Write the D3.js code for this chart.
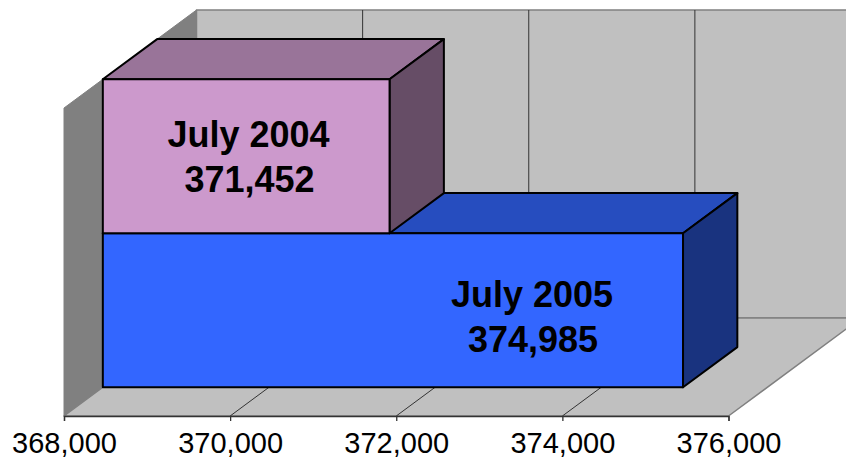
<!DOCTYPE html>
<html><head><meta charset="utf-8">
<script src="https://cdnjs.cloudflare.com/ajax/libs/d3/7.8.5/d3.min.js"></script>
<style>html,body{margin:0;padding:0;background:#fff;overflow:hidden}svg{display:block}
text{font-family:"Liberation Sans",Arial,sans-serif;fill:#000}</style>
</head><body><svg id="c" width="846" height="459"></svg>
<script>
const categories = ["July 2005", "July 2004"];
const values = [374985, 371452];
const tickValues = [368000, 370000, 372000, 374000, 376000];
const domain = [368000, 376000];
const barFronts = ["#3366FF", "#CC99CC"];
const barTops = ["#264DBF", "#997499"];
const barSides = ["#19337F", "#664D66"];
const labelShiftX = [-151, -141];
const labelShiftY = [7, 1];

const svg = d3.select("#c");
const x = d3.scaleLinear().domain(domain).range([64, 728.5]);
const depthX = d3.scaleLinear().domain([0, 1]).range([0, 132.5]);
const depthY = d3.scaleLinear().domain([0, 1]).range([0, -98]);
const height = d3.scaleBand().domain(categories).range([416, 108]);
const fmt = d3.format(",");
const floorY = height.range()[0], topY = height.range()[1];
const minV = domain[0], maxV = domain[1];
const depthBar = [0.293, 0.703];

const P = (v, h, d) => [x(v) + depthX(d), h + depthY(d)];
const line = d3.line();
const poly = (pts, fill, stroke, sw) => svg.append("path")
  .attr("d", line(pts) + "Z").attr("fill", fill)
  .attr("stroke", stroke || "none").attr("stroke-width", sw || 0)
  .attr("stroke-linejoin", "round");

// walls and floor
poly([P(minV, topY, 1), P(maxV, topY, 1), P(maxV, floorY, 1), P(minV, floorY, 1)], "#C0C0C0", "#808080", 1.5);
poly([P(minV, topY, 0), P(minV, topY, 1), P(minV, floorY, 1), P(minV, floorY, 0)], "#808080", "#808080", 1);
poly([P(minV, floorY, 0), P(maxV, floorY, 0), P(maxV, floorY, 1), P(minV, floorY, 1)], "#C0C0C0", "#808080", 1.5);

// gridlines on back wall and floor
tickValues.slice(1, -1).forEach(t => {
  svg.append("path").attr("d", line([P(t, floorY, 0), P(t, floorY, 1), P(t, topY, 1)]))
    .attr("fill", "none").attr("stroke", "#333").attr("stroke-width", 1);
});

// front axis
const axis = d3.axisBottom(x).tickValues(tickValues).tickFormat(fmt).tickSize(5).tickPadding(11);
const ag = svg.append("g").attr("transform", `translate(0,${floorY})`).call(axis);
ag.selectAll("path,line").attr("stroke", "#333").attr("stroke-width", 1.3);
ag.selectAll("text").attr("font-size", 29).attr("font-family", '"Liberation Sans",Arial,sans-serif').attr("fill", "#000");

// bars
categories.forEach((c, i) => {
  const v = values[i];
  const y0 = height(c) + height.bandwidth(), y1 = height(c);
  const [d0, d1] = depthBar;
  const s = "#000";
  poly([P(minV, y1, d0), P(v, y1, d0), P(v, y1, d1), P(minV, y1, d1)], barTops[i], s, 2);
  poly([P(v, y0, d0), P(v, y1, d0), P(v, y1, d1), P(v, y0, d1)], barSides[i], s, 2);
  poly([P(minV, y0, d0), P(v, y0, d0), P(v, y1, d0), P(minV, y1, d0)], barFronts[i], s, 2);
});

// labels
categories.forEach((c, i) => {
  const [rx] = P(values[i], 0, depthBar[0]);
  const [, fy] = P(minV, height(c) + height.bandwidth() / 2, depthBar[0]);
  const t = svg.append("text").attr("text-anchor", "middle").attr("font-weight", "bold").attr("font-size", 36);
  t.append("tspan").attr("x", rx + labelShiftX[i]).attr("y", fy - 10 + labelShiftY[i]).text(c);
  t.append("tspan").attr("x", rx + labelShiftX[i] + 1).attr("y", fy + 35 + labelShiftY[i]).text(fmt(values[i]));
});
</script></body></html>
